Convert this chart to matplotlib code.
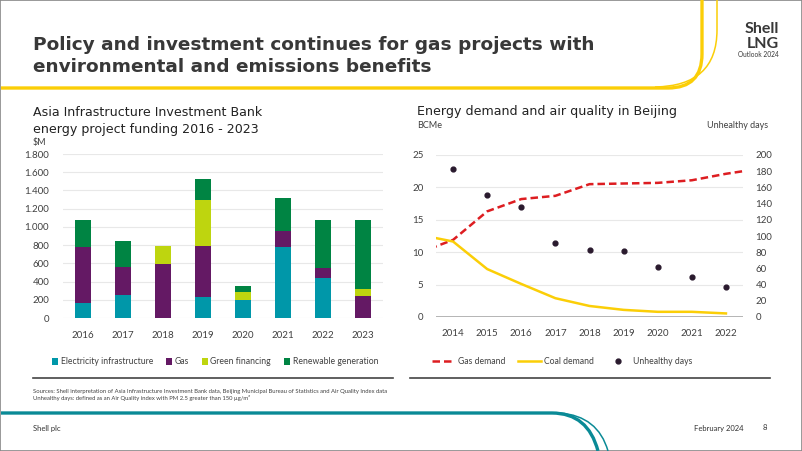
import numpy as np
import matplotlib.pyplot as plt
from matplotlib.patches import PathPatch, Rectangle
from matplotlib.path import Path
from matplotlib.lines import Line2D
from matplotlib.ticker import FuncFormatter

plt.rcParams['font.family'] = ['Lato', 'DejaVu Sans']

# left chart: AIIB funding, $M
years_l = ['2016', '2017', '2018', '2019', '2020', '2021', '2022', '2023']
elec = [160, 255, 0, 230, 195, 775, 438, 0]
gas = [620, 310, 595, 560, 0, 175, 110, 240]
green = [0, 0, 200, 500, 95, 0, 0, 73]
renew = [300, 275, 0, 240, 65, 370, 527, 762]

# right chart: Beijing
yrs_gas = [2013, 2014, 2015, 2016, 2017, 2018, 2019, 2020, 2021, 2022, 2023]
gas_demand = [9.9, 11.9, 16.3, 18.2, 18.7, 20.5, 20.6, 20.7, 21.1, 22.1, 22.9]
yrs_coal = [2013, 2014, 2015, 2016, 2017, 2018, 2019, 2020, 2021, 2022]
coal_demand = [12.7, 11.65, 7.4, 5.1, 2.9, 1.7, 1.1, 0.8, 0.8, 0.55]
yrs_days = [2014, 2015, 2016, 2017, 2018, 2019, 2020, 2021, 2022]
unhealthy = [183, 151, 136, 91, 83, 82, 62, 49, 37]

C_ELEC = '#0097a9'
C_GAS = '#641964'
C_GREEN = '#bed50f'
C_RENEW = '#008443'
C_RED = '#dd1d21'
C_YEL = '#fbce07'
C_DOT = '#2a1a2e'
TXT = '#404040'
HEAD = ['DejaVu Sans']

W, H = 802, 451
fig = plt.figure(figsize=(W / 100, H / 100), dpi=100)


def fx(x):
    return x / W


def fy(y):
    return 1 - y / H


def box(x0, y0, x1, y1):
    return [fx(x0), fy(y1), fx(x1) - fx(x0), fy(y0) - fy(y1)]


def curve(pts, codes, color, lw):
    verts = [(fx(x), fy(y)) for x, y in pts]
    p = PathPatch(Path(verts, codes), transform=fig.transFigure, fc='none',
                  ec=color, lw=lw, capstyle='butt')
    fig.patches.append(p)


# frame and decorative lines
fig.patches.append(Rectangle((0, 0), 1, 1, transform=fig.transFigure, fc='none',
                             ec='#888888', lw=1.2))
M, L, C = Path.MOVETO, Path.LINETO, Path.CURVE3
curve([(1, 88), (668, 88), (702, 88), (702, 54), (702, 0)], [M, L, C, C, L], C_YEL, 2.4)
curve([(655, 87), (717, 86), (717, 30), (717, 0)], [M, C, C, L], C_YEL, 1.1)
curve([(1, 413), (552, 413), (588, 413), (598, 451)], [M, L, C, C], '#0a8a96', 2.4)
curve([(560, 413), (598, 416), (608, 451)], [M, C, C], '#0a8a96', 1.1)

# titles
fig.text(fx(33), fy(45), 'Policy and investment continues for gas projects with',
         fontsize=13.3, fontweight='bold', color='#383838', va='center', family=HEAD)
fig.text(fx(33), fy(67), 'environmental and emissions benefits',
         fontsize=13.3, fontweight='bold', color='#383838', va='center', family=HEAD)
fig.text(fx(779), fy(33), 'Shell', fontsize=11.5, fontweight='bold', color='#383838',
         ha='right', va='baseline')
fig.text(fx(779), fy(47.5), 'LNG', fontsize=11.5, fontweight='bold', color='#383838',
         ha='right', va='baseline')
fig.text(fx(779), fy(57), 'Outlook 2024', fontsize=4.8, color='#383838',
         ha='right', va='baseline')

fig.text(fx(33), fy(112), 'Asia Infrastructure Investment Bank', fontsize=9.1,
         color='#222222', va='center', family=HEAD)
fig.text(fx(33), fy(129), 'energy project funding 2016 - 2023', fontsize=9.1,
         color='#222222', va='center', family=HEAD)
fig.text(fx(33), fy(143), '$M', fontsize=6.5, color=TXT, va='center')
fig.text(fx(417), fy(112), 'Energy demand and air quality in Beijing', fontsize=9.1,
         color='#222222', va='center', family=HEAD)
fig.text(fx(417), fy(126), 'BCMe', fontsize=6.5, color=TXT, va='center')
fig.text(fx(768), fy(126), 'Unhealthy days', fontsize=6.5, color=TXT, va='center',
         ha='right')

# left chart
ax1 = fig.add_axes(box(63, 154, 383, 318))
x = np.arange(len(years_l))
bw = 0.42
bottom = np.zeros(len(years_l))
for vals, col in [(elec, C_ELEC), (gas, C_GAS), (green, C_GREEN), (renew, C_RENEW)]:
    ax1.bar(x, vals, bw, bottom=bottom, color=col, zorder=3)
    bottom += np.array(vals)
ax1.set_xlim(-0.5, 7.5)
ax1.set_ylim(0, 1800)
ax1.set_yticks(np.arange(0, 1801, 200))
ax1.yaxis.set_major_formatter(FuncFormatter(lambda v, p: f'{int(v):,}'.replace(',', '.')))
ax1.set_xticks(x)
ax1.set_xticklabels(years_l)
ax1.grid(axis='y', color='#e8e8e8', lw=0.8, zorder=0)
for s in ax1.spines.values():
    s.set_visible(False)
ax1.tick_params(length=0, labelsize=7, colors=TXT)
ax1.tick_params(axis='x', pad=9)
ax1.tick_params(axis='y', pad=10)

# right chart
ax2 = fig.add_axes(box(436, 155, 743, 317))
ax2.plot(yrs_gas, gas_demand, color=C_RED, lw=1.8, dashes=(3, 1.6), zorder=3)
ax2.plot(yrs_coal, coal_demand, color=C_YEL, lw=1.8, zorder=3)
ax2.set_xlim(2013.5, 2022.5)
ax2.set_ylim(0, 25)
ax2.set_yticks(np.arange(0, 26, 5))
ax2.set_xticks(yrs_days)
ax2.grid(axis='y', color='#e8e8e8', lw=0.8, zorder=0)
for s in ax2.spines.values():
    s.set_visible(False)
ax2.axhline(0, color='#a8a8a8', lw=1.2, zorder=2)
ax2.tick_params(length=0, labelsize=7, colors=TXT)
ax2.tick_params(axis='x', pad=9)
ax2.tick_params(axis='y', pad=9)

ax3 = ax2.twinx()
ax3.scatter(yrs_days, unhealthy, s=12, color=C_DOT, zorder=4)
ax3.set_ylim(0, 200)
ax3.set_yticks(np.arange(0, 201, 20))
for s in ax3.spines.values():
    s.set_visible(False)
ax3.tick_params(length=0, labelsize=7, colors=TXT, pad=9)

# legends
h1 = [Rectangle((0, 0), 1, 1, fc=c) for c in (C_ELEC, C_GAS, C_GREEN, C_RENEW)]
fig.legend(h1, ['Electricity infrastructure', 'Gas', 'Green financing', 'Renewable generation'],
           loc='center', bbox_to_anchor=(fx(215), fy(362)), ncol=4, frameon=False,
           fontsize=6.2, handlelength=0.7, handleheight=0.7, handletextpad=0.3,
           columnspacing=1.5, labelcolor=TXT)
h2 = [Line2D([], [], color=C_RED, lw=1.8, dashes=(3, 1.6)),
      Line2D([], [], color=C_YEL, lw=1.8),
      Line2D([], [], color=C_DOT, marker='o', ls='none', markersize=3.5)]
fig.legend(h2, ['Gas demand', 'Coal demand', 'Unhealthy days'],
           loc='center', bbox_to_anchor=(fx(562), fy(362)), ncol=3, frameon=False,
           fontsize=6.2, handlelength=2.6, handletextpad=0.4, columnspacing=1.5,
           labelcolor=TXT)

fig.add_artist(Line2D([fx(33), fx(393)], [fy(378), fy(378)], color='#444444', lw=1.2))
fig.add_artist(Line2D([fx(410), fx(770)], [fy(378), fy(378)], color='#444444', lw=1.2))

fig.text(fx(33), fy(391), 'Sources: Shell interpretation of Asia Infrastructure Investment Bank data, '
         'Beijing Municipal Bureau of Statistics and Air Quality Index data',
         fontsize=4.25, color=TXT, va='center')
fig.text(fx(33), fy(398), 'Unhealthy days: defined as an Air Quality index with PM 2.5 greater than 150 \u00b5g/m\u00b3',
         fontsize=4.25, color=TXT, va='center')
fig.text(fx(33), fy(428), 'Shell plc', fontsize=5.5, color='#333333', va='center')
fig.text(fx(743), fy(428), 'February 2024', fontsize=5.5, color='#333333', va='center',
         ha='right')
fig.text(fx(767), fy(428), '8', fontsize=5.5, color='#333333', va='center', ha='right')

fig.savefig('out.png', dpi=100)
